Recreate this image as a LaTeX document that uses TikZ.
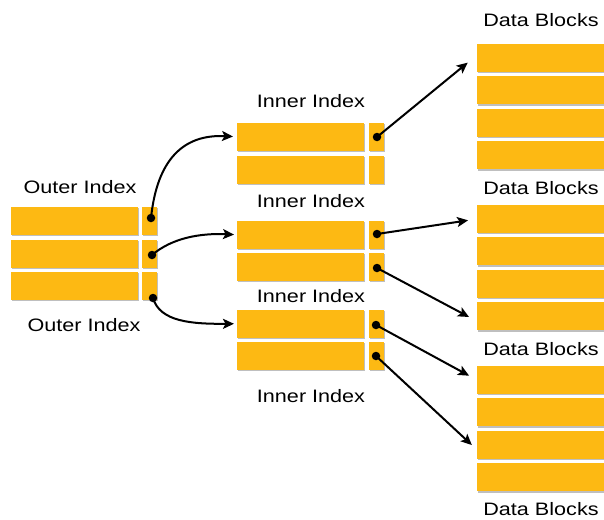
\documentclass[tikz,border=0pt]{standalone}
\usepackage{fontspec}
\setmainfont{Liberation Sans}[FakeStretch=1.2]
\usetikzlibrary{arrows.meta,shadows}
\definecolor{blkor}{RGB}{253,185,19}
\begin{document}
\begin{tikzpicture}[x=1pt,y=-1pt,
  cell/.style={rectangle, fill=blkor, inner sep=0pt, outer sep=0pt, anchor=north west,
    drop shadow={shadow xshift=0.8pt, shadow yshift=-1.3pt, fill=black, opacity=0.25}},
  big/.style={cell, minimum width=127pt, minimum height=28pt},
  ibig/.style={cell, minimum width=127pt, minimum height=27.5pt},
  small/.style={cell, minimum width=15pt, minimum height=28pt},
  ismall/.style={cell, minimum width=15pt, minimum height=27.5pt},
  lbl/.style={font=\fontsize{18}{20}\selectfont, inner sep=0pt, anchor=base},
  dot/.style={circle, fill=black, inner sep=0pt, minimum size=8.5pt},
  conn/.style={line width=2pt, -{Stealth[length=11pt,width=10pt,inset=2.5pt]}}]
\useasboundingbox (0,0) rectangle (604,519);

% outer index
\node[big] (o1) at (11,207) {};   \node[small] (o1s) at (142,207) {};
\node[big] (o2) at (11,239.5) {}; \node[small] (o2s) at (142,239.5) {};
\node[big] (o3) at (11,272) {};   \node[small] (o3s) at (142,272) {};
\node[lbl] (lo1) at (80,193) {Outer Index};
\node[lbl] (lo2) at (84,331) {Outer Index};

% inner index groups
\node[ibig] (i11) at (237,123) {}; \node[ismall] (i11s) at (369,123) {};
\node[ibig] (i12) at (237,156) {}; \node[ismall] (i12s) at (369,156) {};
\node[ibig] (i21) at (237,221) {}; \node[ismall] (i21s) at (369,221) {};
\node[ibig] (i22) at (237,253) {}; \node[ismall] (i22s) at (369,253) {};
\node[ibig] (i31) at (237,310) {}; \node[ismall] (i31s) at (369,310) {};
\node[ibig] (i32) at (237,342) {}; \node[ismall] (i32s) at (369,342) {};
\node[lbl] (li1) at (311,107) {Inner Index};
\node[lbl] (li2) at (311,207) {Inner Index};
\node[lbl] (li3) at (311,302) {Inner Index};
\node[lbl] (li4) at (311,402) {Inner Index};

% data blocks
\foreach \g/\y in {1/44,2/205,3/366}{
  \foreach \r in {1,2,3,4}{
    \node[big] (d\g\r) at (477,{\y+32.4*(\r-1)}) {};
  }
}
\node[lbl] (ld1) at (541,27) {Data Blocks};
\node[lbl] (ld2) at (541,194) {Data Blocks};
\node[lbl] (ld3) at (541,355) {Data Blocks};
\node[lbl] (ld4) at (541,515) {Data Blocks};

% pointer dots
\node[dot] (od1) at (151,218) {};
\node[dot] (od2) at (152,255) {};
\node[dot] (od3) at (153,298) {};
\node[dot] (id11) at (377,137) {};
\node[dot] (id21) at (377,234) {};
\node[dot] (id22) at (377,268) {};
\node[dot] (id31) at (376,325) {};
\node[dot] (id32) at (376,356) {};

% connectors
\draw[conn, shorten >=4pt] (od1.center) .. controls (157,160) and (183,134) .. (i11.west);
\draw[conn, shorten >=3pt] (od2.center) .. controls (172,238) and (200,233) .. (i21.west);
\draw[conn, shorten >=3pt] (od3.center) .. controls (160,322) and (192,324) .. (i31.west);
\draw[conn, shorten >=12pt] (id11.center) -- ([yshift=3pt]d11.west);
\draw[conn, shorten >=9pt] (id21.center) -- (d21.west);
\draw[conn, shorten >=9pt] (id22.center) -- ([yshift=-5pt]d24.west);
\draw[conn, shorten >=9pt] (id31.center) -- (d31.west);
\draw[conn, shorten >=7pt] (id32.center) -- ([yshift=-5pt]d33.west);
\end{tikzpicture}
\end{document}
